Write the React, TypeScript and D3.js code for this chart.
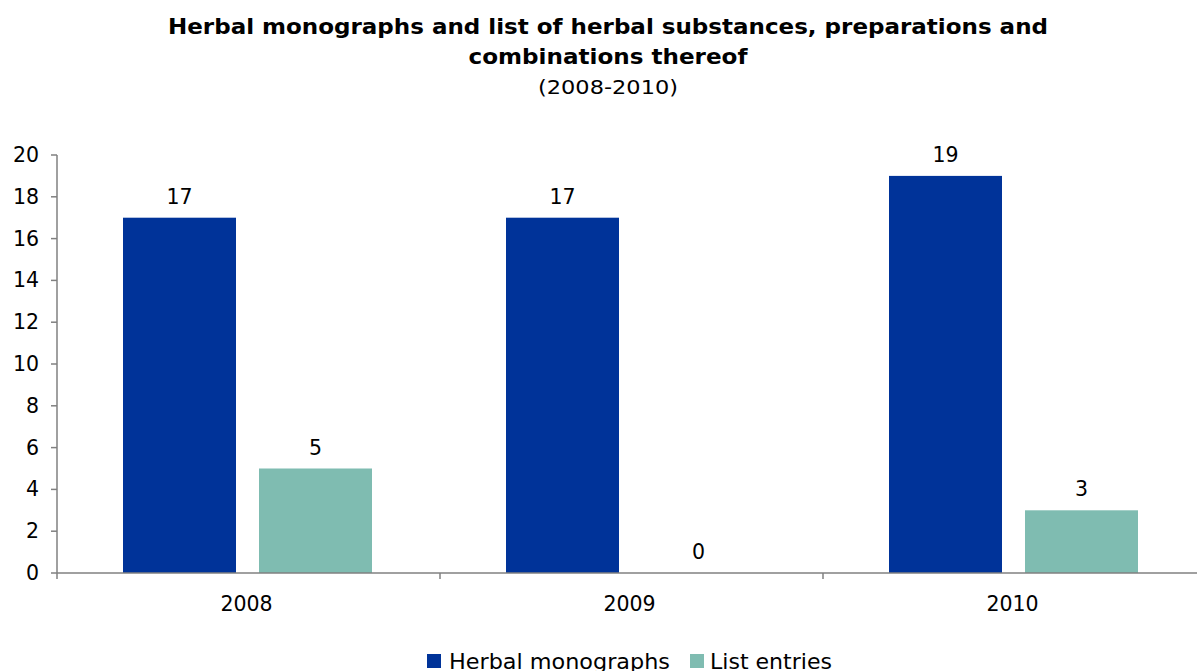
import React from "react";
import * as d3 from "d3";

const categories = ["2008", "2009", "2010"];
const seriesNames = ["Herbal monographs", "List entries"];
const herbalMonographs = [17, 17, 19];
const listEntries = [5, 0, 3];
const yTicks = [0, 2, 4, 6, 8, 10, 12, 14, 16, 18, 20];
const colors = ["#003399", "#7FBCB1"];

const FONT = "'DejaVu Sans', Verdana, sans-serif";

export default function App() {
  const W = 1197, H = 671;
  const x0 = d3.scaleBand<string>().domain(categories).range([57, 57 + 3 * 383]);
  const x1 = d3
    .scaleBand<string>()
    .domain(seriesNames)
    .range([66, 66 + 249])
    .paddingInner(23 / 136)
    .paddingOuter(0);
  const y = d3.scaleLinear().domain([0, 20]).range([573, 155]);
  const values = [herbalMonographs, listEntries];
  const axisColor = "#808080";
  const fs = 20.5;

  return (
    <svg width={W} height={H} style={{ position: "absolute", left: 0, top: 0 }} fontFamily={FONT}>
      <rect width={W} height={H} fill="#fff" />
      <text x={608} y={34} textAnchor="middle" fontWeight="bold" fontSize={21} textLength={880} lengthAdjust="spacingAndGlyphs">
        Herbal monographs and list of herbal substances, preparations and
      </text>
      <text x={608} y={64} textAnchor="middle" fontWeight="bold" fontSize={21} textLength={279} lengthAdjust="spacingAndGlyphs">
        combinations thereof
      </text>
      <text x={608} y={94} textAnchor="middle" fontSize={20} textLength={140} lengthAdjust="spacingAndGlyphs">
        (2008-2010)
      </text>

      {/* bars */}
      {categories.map((c, ci) =>
        seriesNames.map((s, si) => {
          const v = values[si][ci];
          const bx = (x0(c) as number) + (x1(s) as number);
          const bw = x1.bandwidth();
          return (
            <g key={c + s}>
              {v > 0 && (
                <rect x={bx} y={y(v)} width={bw} height={y(0) - y(v)} fill={colors[si]} />
              )}
              <text x={bx + bw / 2} y={y(v) - 14} textAnchor="middle" fontSize={fs}>
                {v}
              </text>
            </g>
          );
        })
      )}

      {/* y axis */}
      <line x1={57} x2={57} y1={y(20)} y2={y(0) + 6} stroke={axisColor} strokeWidth={1.5} />
      {yTicks.map((t) => (
        <g key={t}>
          <line x1={51} x2={57} y1={y(t)} y2={y(t)} stroke={axisColor} strokeWidth={1.5} />
          <text x={39} y={y(t) + 7} textAnchor="end" fontSize={fs}>
            {t}
          </text>
        </g>
      ))}

      {/* x axis */}
      <line x1={57} x2={W} y1={y(0)} y2={y(0)} stroke={axisColor} strokeWidth={1.5} />
      {categories.map((c, i) => (
        <g key={c}>
          {i > 0 && (
            <line x1={x0(c)} x2={x0(c)} y1={y(0)} y2={y(0) + 6} stroke={axisColor} strokeWidth={1.5} />
          )}
          <text x={(x0(c) as number) + x0.bandwidth() / 2 - 2} y={611} textAnchor="middle" fontSize={fs}>
            {c}
          </text>
        </g>
      ))}

      {/* legend */}
      <rect x={427} y={654} width={14} height={14} fill={colors[0]} />
      <text x={449} y={669} fontSize={fs} textLength={221} lengthAdjust="spacingAndGlyphs">{seriesNames[0]}</text>
      <rect x={690} y={654} width={14} height={14} fill={colors[1]} />
      <text x={710} y={669} fontSize={fs} textLength={122} lengthAdjust="spacingAndGlyphs">{seriesNames[1]}</text>
    </svg>
  );
}
